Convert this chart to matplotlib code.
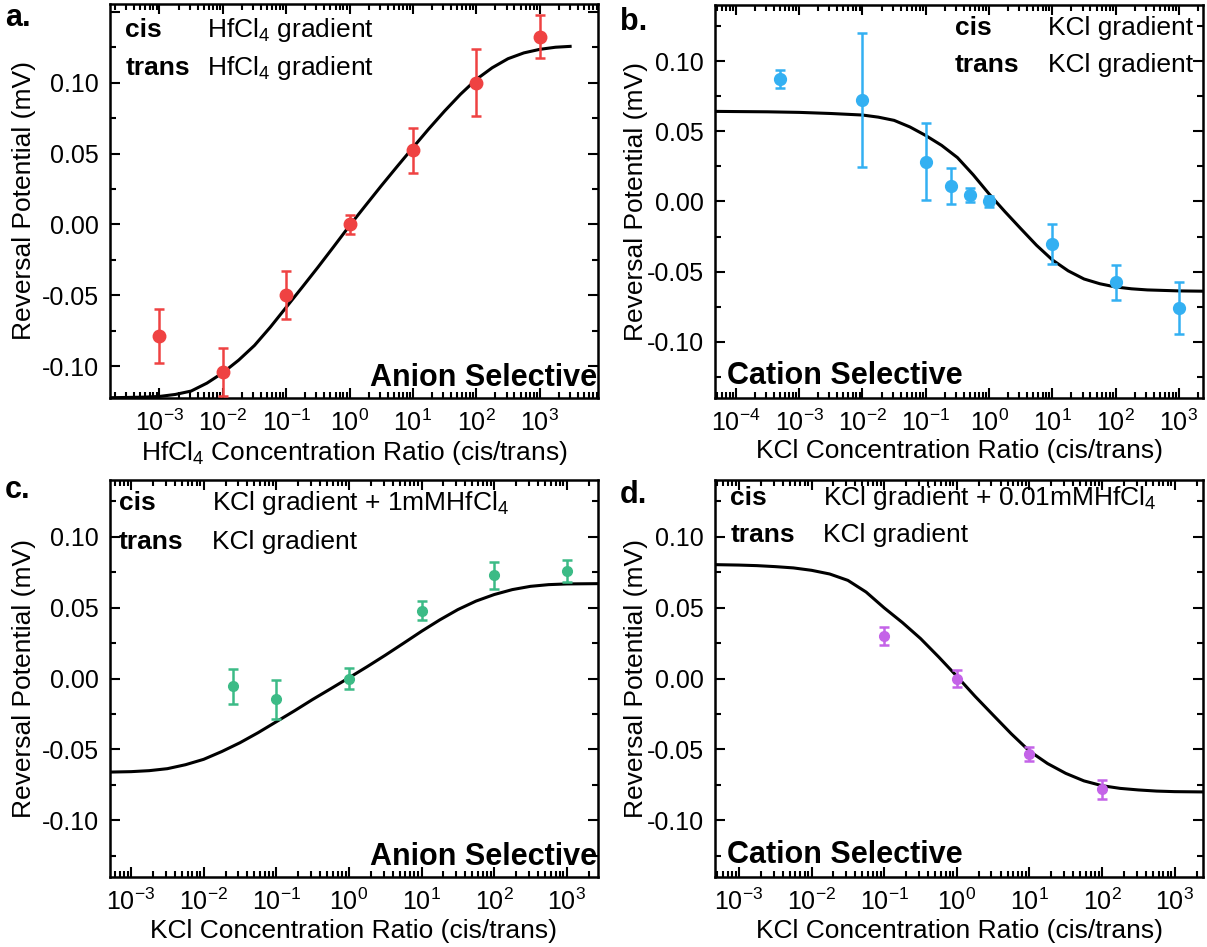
import matplotlib
matplotlib.use("Agg")
import matplotlib.pyplot as plt
from matplotlib.ticker import LogLocator, MultipleLocator, NullFormatter

plt.rcParams["font.family"] = ["Liberation Sans", "DejaVu Sans"]
plt.rcParams["mathtext.default"] = "regular"

# panel a: HfCl4 gradient on both sides
a_x = [1e-3, 1e-2, 1e-1, 1e0, 1e1, 1e2, 1e3]
a_y = [-0.0789, -0.1042, -0.0500, 0.0000, 0.0523, 0.1000, 0.1324]
a_err = [0.0190, 0.0167, 0.0170, 0.0065, 0.0160, 0.0235, 0.0152]
# fit curve (x given as log10 of the ratio)
a_fit_exp = [-3.78, -3.5, -3.25, -3.0, -2.75, -2.5, -2.25, -2.0, -1.75, -1.5, -1.25, -1.0,
             -0.75, -0.5, -0.25, 0.0, 0.25, 0.5, 0.75, 1.0, 1.25, 1.5, 1.75, 2.0,
             2.25, 2.5, 2.75, 3.0, 3.25, 3.48]
a_fit_y = [-0.1223, -0.1221, -0.1219, -0.1214, -0.1200, -0.1176, -0.1120, -0.1047,
           -0.0958, -0.0854, -0.0725, -0.0585, -0.0445, -0.0303, -0.0157, -0.0009,
           0.0132, 0.0272, 0.0408, 0.0542, 0.0674, 0.0800, 0.0918, 0.1023,
           0.1105, 0.1169, 0.1210, 0.1235, 0.1250, 0.1256]

# panel b: KCl gradient on both sides
b_x = [5e-4, 1e-2, 1e-1, 0.25, 0.5, 1e0, 1e1, 1e2, 1e3]
b_y = [0.0872, 0.0724, 0.0284, 0.0113, 0.0047, 0.0000, -0.0303, -0.0576, -0.0761]
b_err = [0.0062, 0.0476, 0.0272, 0.0128, 0.0050, 0.0040, 0.0140, 0.0124, 0.0184]
b_fit_exp = [-4.33, -3.5, -3.0, -2.5, -2.0, -1.75, -1.5, -1.25, -1.0, -0.75, -0.5, -0.25,
             0.0, 0.25, 0.5, 0.75, 1.0, 1.25, 1.5, 1.75, 2.0, 2.25, 2.5, 3.0, 3.38]
b_fit_y = [0.0642, 0.0639, 0.0635, 0.0627, 0.0616, 0.0601, 0.0578, 0.0531, 0.0470,
           0.0400, 0.0313, 0.0190, 0.0054, -0.0072, -0.0193, -0.0312, -0.0416,
           -0.0494, -0.0552, -0.0586, -0.0609, -0.0622, -0.0630, -0.0637, -0.0639]

# panel c: KCl gradient + 1 mM HfCl4 on cis
c_x = [0.025, 1e-1, 1e0, 1e1, 1e2, 1e3]
c_y = [-0.0054, -0.0148, 0.0000, 0.0479, 0.0728, 0.0761]
c_err = [0.0124, 0.0135, 0.0073, 0.0066, 0.0096, 0.0077]
c_fit_exp = [-3.29, -3.0, -2.75, -2.5, -2.25, -2.0, -1.75, -1.5, -1.25, -1.0, -0.75, -0.5,
             -0.25, 0.0, 0.25, 0.5, 0.75, 1.0, 1.25, 1.5, 1.75, 2.0, 2.25, 2.5,
             2.75, 3.0, 3.43]
c_fit_y = [-0.0660, -0.0657, -0.0650, -0.0636, -0.0608, -0.0570, -0.0515, -0.0453,
           -0.0382, -0.0305, -0.0228, -0.0148, -0.0072, 0.0005, 0.0083, 0.0164,
           0.0248, 0.0333, 0.0413, 0.0486, 0.0546, 0.0592, 0.0627, 0.0650,
           0.0662, 0.0667, 0.0669]

# panel d: KCl gradient + 0.01 mM HfCl4 on cis
d_x = [1e-1, 1e0, 1e1, 1e2]
d_y = [0.0300, 0.0000, -0.0533, -0.0782]
d_err = [0.0063, 0.0059, 0.0048, 0.0065]
d_fit_exp = [-3.33, -3.0, -2.75, -2.5, -2.25, -2.0, -1.75, -1.5, -1.25, -1.0, -0.75, -0.5,
             -0.25, 0.0, 0.25, 0.5, 0.75, 1.0, 1.25, 1.5, 1.75, 2.0, 2.25, 2.5,
             2.75, 3.0, 3.39]
d_fit_y = [0.0803, 0.0800, 0.0796, 0.0789, 0.0780, 0.0763, 0.0737, 0.0692, 0.0610,
           0.0498, 0.0395, 0.0282, 0.0152, 0.0016, -0.0125, -0.0258, -0.0390,
           -0.0512, -0.0600, -0.0669, -0.0722, -0.0756, -0.0775, -0.0786,
           -0.0794, -0.0798, -0.0800]

panels = [
    dict(letter="a.", pos=(110, 4, 598, 398), x=a_x, y=a_y, err=a_err,
         fx=a_fit_exp, fy=a_fit_y, color="#EF4242", ms=9,
         xlim=(-3.78, 3.92), ylim=(-0.1225, 0.1555), ylab_x=-0.152,
         xlabel="HfCl$_4$ Concentration Ratio (cis/trans)",
         cis="HfCl$_4$ gradient", trans="HfCl$_4$ gradient",
         lab_x=(0.031, 0.199), lab_y=(0.934, 0.838),
         sel="Anion Selective", letter_xy=(5, 18)),
    dict(letter="b.", pos=(715, 5, 1203, 398), x=b_x, y=b_y, err=b_err,
         fx=b_fit_exp, fy=b_fit_y, color="#33B0F2", ms=8.5,
         xlim=(-4.33, 3.38), ylim=(-0.14, 0.14), ylab_x=-0.137,
         xlabel="KCl Concentration Ratio (cis/trans)",
         cis="KCl gradient", trans="KCl gradient",
         lab_x=(0.492, 0.682), lab_y=(0.942, 0.848),
         sel="Cation Selective", letter_xy=(620, 22)),
    dict(letter="c.", pos=(110, 480, 598, 877), x=c_x, y=c_y, err=c_err,
         fx=c_fit_exp, fy=c_fit_y, color="#3CBB86", ms=7,
         xlim=(-3.29, 3.43), ylim=(-0.14, 0.14), ylab_x=-0.152,
         xlabel="KCl Concentration Ratio (cis/trans)",
         cis="KCl gradient + 1mMHfCl$_4$", trans="KCl gradient",
         lab_x=(0.018, 0.209), lab_y=(0.942, 0.844),
         sel="Anion Selective", letter_xy=(5, 490)),
    dict(letter="d.", pos=(715, 480, 1203, 877), x=d_x, y=d_y, err=d_err,
         fx=d_fit_exp, fy=d_fit_y, color="#C463E8", ms=7,
         xlim=(-3.33, 3.39), ylim=(-0.14, 0.14), ylab_x=-0.137,
         xlabel="KCl Concentration Ratio (cis/trans)",
         cis="KCl gradient + 0.01mMHfCl$_4$", trans="KCl gradient",
         lab_x=(0.031, 0.221), lab_y=(0.955, 0.861),
         sel="Cation Selective", letter_xy=(620, 495)),
]


def ytick_fmt(v, _):
    # the reference only labels -0.10 .. 0.10
    if abs(v) > 0.11:
        return ""
    return f"{v:.2f}"


W, H = 1207, 947
fig = plt.figure(figsize=(W / 100, H / 100), dpi=100)

for p in panels:
    x0, y0, x1, y1 = p["pos"]
    ax = fig.add_axes([x0 / W, 1 - y1 / H, (x1 - x0) / W, (y1 - y0) / H])
    ax.set_xscale("log")

    fit_x = [10 ** e for e in p["fx"]]
    ax.plot(fit_x, p["fy"], color="black", lw=2.2, zorder=2,
            solid_joinstyle="round")
    ax.errorbar(p["x"], p["y"], yerr=p["err"], fmt="o", color=p["color"],
                ms=p["ms"], elinewidth=1.8, capsize=3.5, capthick=1.8, zorder=3)

    ax.set_xlim(10 ** p["xlim"][0], 10 ** p["xlim"][1])
    ax.set_ylim(*p["ylim"])
    ax.xaxis.set_major_locator(LogLocator(base=10, numticks=20))
    ax.xaxis.set_minor_locator(LogLocator(base=10, subs=range(2, 10), numticks=20))
    ax.xaxis.set_minor_formatter(NullFormatter())
    ax.yaxis.set_major_locator(MultipleLocator(0.05))
    ax.yaxis.set_minor_locator(MultipleLocator(0.025))
    ax.yaxis.set_major_formatter(plt.FuncFormatter(ytick_fmt))

    ax.tick_params(which="both", direction="in", top=True, right=True,
                   width=1.5, labelsize=18)
    ax.tick_params(which="major", length=7, pad=8)
    ax.tick_params(which="minor", length=4)
    for s in ax.spines.values():
        s.set_linewidth(1.8)

    ax.set_xlabel(p["xlabel"], fontsize=19)
    ax.set_ylabel("Reversal Potential (mV)", fontsize=19)
    ax.xaxis.set_label_coords(0.5, -0.105)
    ax.yaxis.set_label_coords(p["ylab_x"], 0.5)

    lx, tx = p["lab_x"]
    cy, ty = p["lab_y"]
    ax.text(lx, cy, "cis", transform=ax.transAxes, fontsize=19,
            fontweight="bold", va="center", ha="left")
    ax.text(lx, ty, "trans", transform=ax.transAxes, fontsize=19,
            fontweight="bold", va="center", ha="left")
    ax.text(tx, cy, p["cis"], transform=ax.transAxes, fontsize=19,
            va="center", ha="left")
    ax.text(tx, ty, p["trans"], transform=ax.transAxes, fontsize=19,
            va="center", ha="left")

    if p["sel"].startswith("Anion"):
        ax.text(0.998, 0.05, p["sel"], transform=ax.transAxes, fontsize=22,
                fontweight="bold", ha="right", va="center")
    else:
        ax.text(0.025, 0.055, p["sel"], transform=ax.transAxes, fontsize=22,
                fontweight="bold", ha="left", va="center")

    lx_px, ly_px = p["letter_xy"]
    fig.text(lx_px / W, 1 - ly_px / H, p["letter"], fontsize=22,
             fontweight="bold", ha="left", va="center")

fig.savefig("out.png", dpi=100)
